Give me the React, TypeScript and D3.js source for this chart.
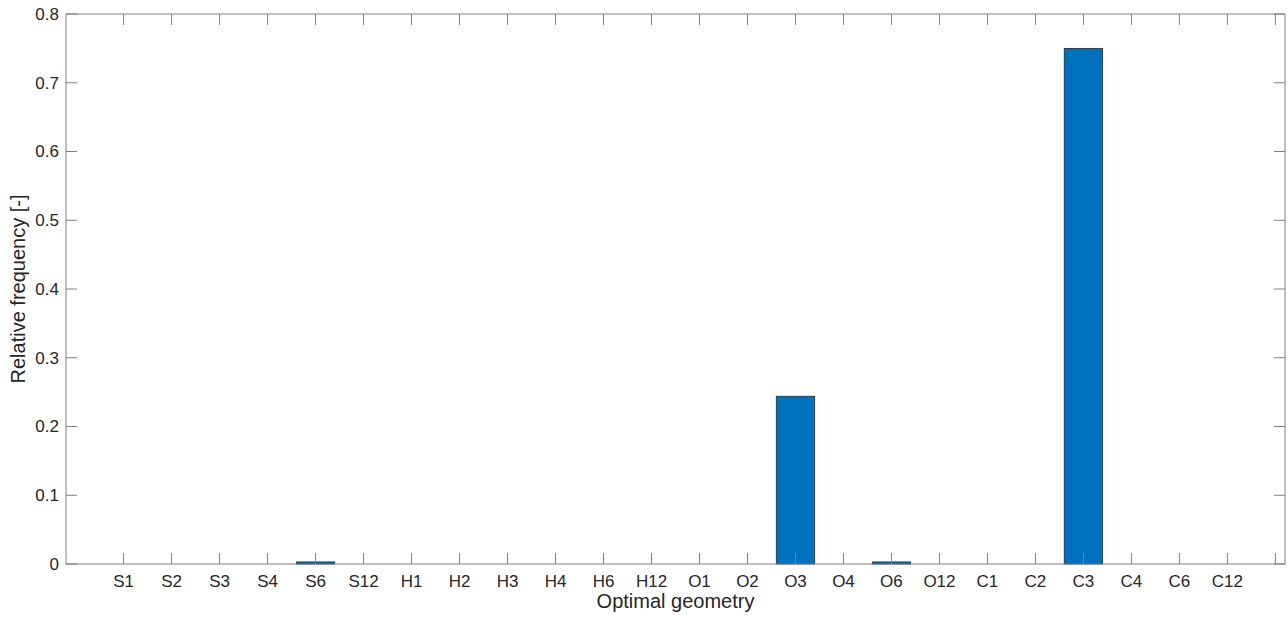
import React from "react";
import * as d3 from "d3";

const categories = ["S1","S2","S3","S4","S6","S12","H1","H2","H3","H4","H6","H12","O1","O2","O3","O4","O6","O12","C1","C2","C3","C4","C6","C12"];
const values = [0,0,0,0,0.003,0,0,0,0,0,0,0,0,0,0.244,0,0.003,0,0,0,0.75,0,0,0];
const yTicks = [0,0.1,0.2,0.3,0.4,0.5,0.6,0.7,0.8];
const xTickPositions = d3.range(1, 26);

export default function App() {
  const W = 1288, H = 618;
  const left = 66, right = 1285, top = 14, bottom = 564;
  const x = d3.scaleLinear().domain([-0.2, 25.2]).range([left, right]);
  const y = d3.scaleLinear().domain([0, 0.8]).range([bottom, top]);
  const bw = (x(1) - x(0)) * 0.8;
  const axisColor = "#808080";
  const textColor = "#262626";
  const font = "Liberation Sans, Arial, sans-serif";
  const fs = 17;
  const lfs = 20;
  const tl = 11;
  return (
    <svg width={W} height={H} style={{ position: "absolute", left: 0, top: 0, background: "#fff" }}>
      <rect x={0} y={0} width={W} height={H} fill="#fff" />
      {values.map((v, i) => v > 0 ? (
        <rect key={i} x={x(i + 1) - bw / 2} y={y(v)} width={bw} height={y(0) - y(v)}
          fill="#0072BD" stroke="#1a2a3a" strokeWidth={0.8} />
      ) : null)}
      <rect x={left} y={top} width={right - left} height={bottom - top} fill="none" stroke={axisColor} strokeWidth={1} />
      {xTickPositions.map((t) => (
        <g key={t}>
          <line x1={x(t)} x2={x(t)} y1={bottom} y2={bottom - tl} stroke={axisColor} />
          <line x1={x(t)} x2={x(t)} y1={top} y2={top + tl} stroke={axisColor} />
        </g>
      ))}
      {categories.map((c, i) => (
        <text key={c} x={x(i + 1)} y={586.5} textAnchor="middle" fontFamily={font} fontSize={fs} fill={textColor}>{c}</text>
      ))}
      {yTicks.map((t) => (
        <g key={t}>
          <line x1={left} x2={left + tl} y1={y(t)} y2={y(t)} stroke={axisColor} />
          <line x1={right} x2={right - tl} y1={y(t)} y2={y(t)} stroke={axisColor} />
          <text x={59} y={y(t)} dy="0.35em" textAnchor="end" fontFamily={font} fontSize={fs} fill={textColor}>{t === 0 ? "0" : t.toFixed(1)}</text>
        </g>
      ))}
      <text x={(left + right) / 2} y={607.5} textAnchor="middle" fontFamily={font} fontSize={lfs} fill={textColor}>Optimal geometry</text>
      <text transform={`translate(25,${(top + bottom) / 2}) rotate(-90)`} textAnchor="middle" fontFamily={font} fontSize={lfs} fill={textColor}>Relative frequency [-]</text>
    </svg>
  );
}
